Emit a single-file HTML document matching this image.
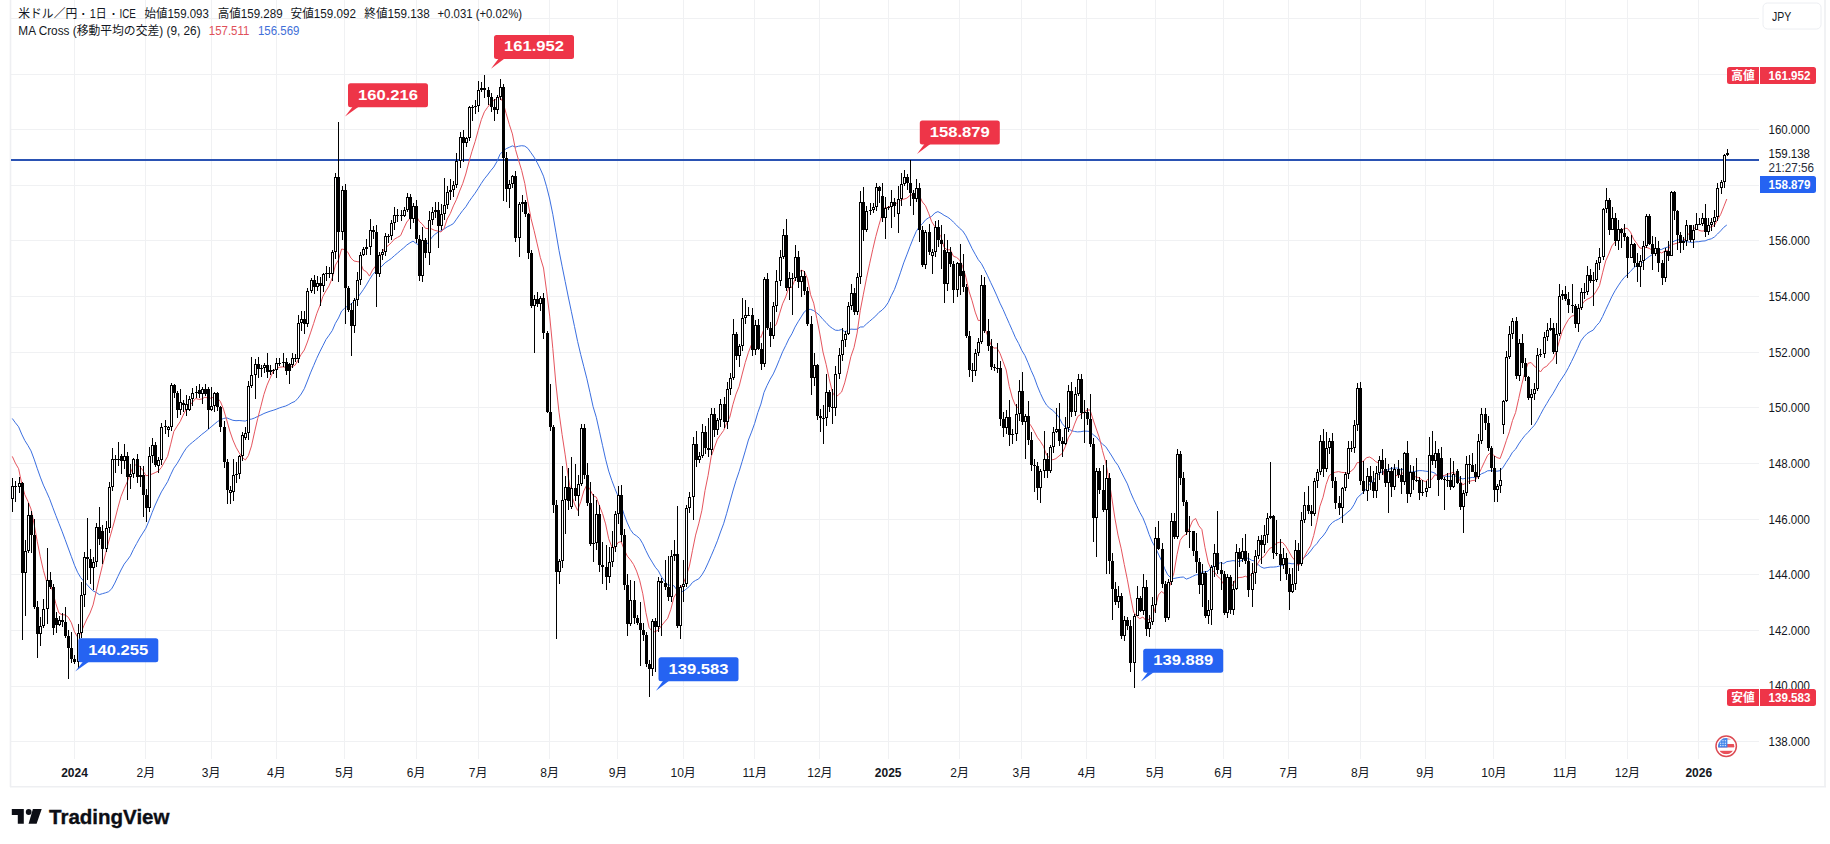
<!DOCTYPE html><html lang="ja"><head><meta charset="utf-8"><title>USDJPY</title><style>html,body{margin:0;padding:0;background:#fff}body{width:1830px;height:844px;overflow:hidden}svg{display:block}</style></head><body><svg width="1830" height="844" viewBox="0 0 1830 844" font-family='"Liberation Sans","Noto Sans CJK JP",sans-serif'>
<rect width="1830" height="844" fill="#fff"/>
<path d="M74.5 0V759 M145.5 0V759 M211.5 0V759 M276.5 0V759 M344.5 0V759 M416.5 0V759 M478.5 0V759 M549.5 0V759 M617.5 0V759 M683.5 0V759 M754.5 0V759 M819.5 0V759 M888.5 0V759 M959.5 0V759 M1021.5 0V759 M1086.5 0V759 M1155.5 0V759 M1223.5 0V759 M1288.5 0V759 M1360.5 0V759 M1425.5 0V759 M1493.5 0V759 M1565.5 0V759 M1627.5 0V759 M1698.5 0V759 M11 741.5H1759 M11 686.5H1759 M11 630.5H1759 M11 574.5H1759 M11 519.5H1759 M11 463.5H1759 M11 407.5H1759 M11 352.5H1759 M11 296.5H1759 M11 240.5H1759 M11 185.5H1759 M11 129.5H1759 M11 74.5H1759 M11 18.5H1759" stroke="#f0f1f3" stroke-width="1" fill="none" shape-rendering="crispEdges"/>
<path d="M10.5 0V787M10 786.8H1826M1825 0V787" stroke="#eeeff2" stroke-width="1.6" fill="none"/>
<rect x="11" y="159" width="1748" height="2" fill="#2a52b3"/>
<polyline points="12.3,418.5 15.4,422.8 18.6,426.8 21.7,434.1 24.8,440.5 27.9,445.4 31.0,450.9 34.1,459.1 37.2,468.3 40.3,477.1 43.4,485.1 46.5,491.8 49.6,498.8 52.7,507.2 55.8,515.4 58.9,523.3 62.0,531.2 65.1,539.5 68.2,548.0 71.4,556.7 74.5,565.2 77.6,572.3 80.7,577.6 83.8,581.2 86.9,584.5 90.0,588.0 93.1,590.9 96.2,592.4 99.3,594.6 102.4,593.7 105.5,592.8 108.6,591.7 111.7,588.8 114.8,583.1 117.9,576.4 121.0,570.0 124.2,564.1 127.3,560.1 130.4,555.8 133.5,549.3 136.6,543.6 139.7,538.0 142.8,533.1 145.9,528.2 149.0,520.8 152.1,512.6 155.2,505.0 158.3,498.3 161.4,491.9 164.5,486.8 167.6,481.7 170.7,474.7 173.8,468.2 177.0,463.7 180.1,458.4 183.2,452.9 186.3,448.2 189.4,444.8 192.5,442.3 195.6,439.7 198.7,437.2 201.8,434.4 204.9,432.1 208.0,429.5 211.1,426.9 214.2,424.3 217.3,421.7 220.4,419.8 223.5,418.5 226.7,417.8 229.8,419.1 232.9,420.3 236.0,420.7 239.1,420.5 242.2,420.8 245.3,421.1 248.4,419.5 251.5,419.1 254.6,418.0 257.7,416.4 260.8,415.1 263.9,413.5 267.0,412.3 270.1,411.2 273.2,410.3 276.3,409.2 279.5,407.9 282.6,406.9 285.7,406.0 288.8,404.5 291.9,402.7 295.0,401.4 298.1,398.1 301.2,394.0 304.3,388.7 307.4,381.0 310.5,372.9 313.6,365.7 316.7,358.4 319.8,351.8 322.9,345.7 326.0,339.5 329.1,335.2 332.3,330.5 335.4,323.3 338.5,318.0 341.6,311.1 344.7,308.2 347.8,305.8 350.9,304.1 354.0,301.4 357.1,298.2 360.2,294.1 363.3,289.7 366.4,284.9 369.5,279.5 372.6,274.7 375.7,271.4 378.8,268.8 381.9,266.2 385.1,262.8 388.2,260.7 391.3,258.5 394.4,255.7 397.5,253.1 400.6,250.4 403.7,247.9 406.8,245.0 409.9,242.9 413.0,241.1 416.1,243.5 419.2,245.1 422.3,247.1 425.4,245.7 428.5,242.2 431.6,237.8 434.7,234.4 437.9,232.3 441.0,230.7 444.1,229.0 447.2,226.9 450.3,225.4 453.4,223.6 456.5,219.2 459.6,214.7 462.7,210.5 465.8,206.8 468.9,201.8 472.0,197.4 475.1,193.2 478.2,188.4 481.3,183.4 484.4,178.8 487.5,175.0 490.7,170.7 493.8,167.0 496.9,161.6 500.0,154.3 503.1,151.1 506.2,148.7 509.3,147.3 512.4,145.9 515.5,147.0 518.6,146.2 521.7,145.7 524.8,146.1 527.9,148.4 531.0,152.8 534.1,157.2 537.2,162.7 540.3,168.9 543.5,176.2 546.6,186.7 549.7,199.0 552.8,214.3 555.9,232.2 559.0,250.4 562.1,266.2 565.2,281.5 568.3,297.0 571.4,311.7 574.5,326.5 577.6,341.4 580.7,354.5 583.8,366.7 586.9,378.8 590.0,392.6 593.1,406.7 596.3,417.3 599.4,431.2 602.5,445.3 605.6,459.2 608.7,471.1 611.8,480.4 614.9,488.6 618.0,496.0 621.1,505.1 624.2,514.8 627.3,522.9 630.4,529.6 633.5,533.9 636.6,535.9 639.7,538.6 642.8,543.8 645.9,550.6 649.1,557.0 652.2,562.1 655.3,567.2 658.4,570.9 661.5,576.9 664.6,581.2 667.7,584.8 670.8,585.3 673.9,585.7 677.0,590.0 680.1,590.9 683.2,591.5 686.3,588.9 689.4,586.4 692.5,582.4 695.6,580.4 698.7,578.9 701.9,574.9 705.0,569.6 708.1,562.9 711.2,555.8 714.3,548.5 717.4,540.8 720.5,532.0 723.6,523.8 726.7,513.3 729.8,502.1 732.9,491.0 736.0,480.6 739.1,471.6 742.2,461.4 745.3,450.9 748.4,440.0 751.5,432.1 754.7,423.3 757.8,412.7 760.9,404.1 764.0,392.4 767.1,385.4 770.2,379.2 773.3,373.9 776.4,367.0 779.5,359.4 782.6,351.8 785.7,345.6 788.8,339.0 791.9,333.8 795.0,327.1 798.1,321.8 801.2,316.9 804.3,311.9 807.5,309.4 810.6,309.4 813.7,310.6 816.8,312.9 819.9,315.7 823.0,319.5 826.1,322.5 829.2,326.0 832.3,328.3 835.4,330.2 838.5,330.4 841.6,329.5 844.7,331.6 847.8,330.7 850.9,329.1 854.0,329.3 857.1,329.2 860.3,327.0 863.4,326.9 866.5,323.9 869.6,321.3 872.7,318.6 875.8,315.9 878.9,312.4 882.0,310.2 885.1,307.0 888.2,302.5 891.3,295.7 894.4,289.6 897.5,281.2 900.6,272.2 903.7,262.9 906.8,254.9 909.9,246.7 913.1,238.7 916.2,231.5 919.3,226.7 922.4,223.8 925.5,219.9 928.6,217.8 931.7,216.3 934.8,213.0 937.9,211.6 941.0,213.2 944.1,215.3 947.2,216.9 950.3,219.0 953.4,222.1 956.5,225.1 959.6,228.3 962.7,230.9 965.9,235.8 969.0,242.1 972.1,248.6 975.2,254.2 978.3,259.7 981.4,263.6 984.5,269.5 987.6,275.8 990.7,282.5 993.8,289.0 996.9,295.9 1000.0,303.2 1003.1,309.5 1006.2,316.6 1009.3,323.6 1012.4,330.6 1015.5,337.8 1018.7,343.6 1021.8,350.4 1024.9,355.5 1028.0,362.7 1031.1,370.4 1034.2,377.2 1037.3,385.9 1040.4,393.4 1043.5,400.0 1046.6,405.2 1049.7,408.2 1052.8,410.5 1055.9,413.5 1059.0,417.3 1062.1,423.4 1065.2,427.1 1068.3,428.9 1071.5,430.6 1074.6,431.5 1077.7,431.9 1080.8,431.7 1083.9,431.1 1087.0,431.2 1090.1,431.5 1093.2,434.8 1096.3,436.9 1099.4,440.8 1102.5,444.2 1105.6,446.5 1108.7,451.2 1111.8,456.0 1114.9,461.2 1118.0,465.4 1121.1,471.7 1124.3,477.9 1127.4,483.9 1130.5,492.2 1133.6,499.3 1136.7,505.8 1139.8,512.3 1142.9,517.8 1146.0,525.5 1149.1,534.4 1152.2,541.9 1155.3,547.4 1158.4,554.0 1161.5,560.6 1164.6,568.5 1167.7,574.8 1170.8,577.7 1173.9,578.5 1177.1,577.8 1180.2,577.3 1183.3,577.0 1186.4,579.1 1189.5,577.9 1192.6,576.4 1195.7,574.9 1198.8,574.5 1201.9,572.0 1205.0,571.9 1208.1,571.2 1211.2,567.6 1214.3,565.1 1217.4,564.1 1220.5,562.6 1223.6,563.6 1226.8,561.6 1229.9,561.2 1233.0,560.6 1236.1,561.1 1239.2,561.5 1242.3,560.2 1245.4,558.0 1248.5,558.3 1251.6,560.3 1254.7,561.0 1257.8,564.3 1260.9,566.9 1264.0,568.2 1267.1,567.6 1270.2,567.1 1273.3,567.1 1276.4,566.8 1279.6,566.0 1282.7,565.5 1285.8,563.9 1288.9,563.2 1292.0,563.8 1295.1,563.7 1298.2,563.5 1301.3,561.4 1304.4,557.2 1307.5,554.7 1310.6,551.0 1313.7,546.8 1316.8,543.7 1319.9,539.2 1323.0,536.0 1326.1,531.7 1329.2,526.0 1332.4,522.5 1335.5,520.5 1338.6,519.2 1341.7,517.0 1344.8,514.7 1347.9,512.0 1351.0,509.4 1354.1,504.5 1357.2,498.1 1360.3,494.9 1363.4,492.3 1366.5,488.5 1369.6,484.3 1372.7,480.7 1375.8,477.8 1378.9,473.8 1382.0,471.9 1385.2,471.0 1388.3,469.5 1391.4,468.4 1394.5,468.0 1397.6,468.1 1400.7,469.7 1403.8,469.1 1406.9,470.9 1410.0,472.1 1413.1,472.0 1416.2,471.1 1419.3,470.6 1422.4,470.7 1425.5,471.2 1428.6,471.5 1431.7,472.0 1434.8,473.0 1438.0,476.6 1441.1,476.5 1444.2,476.1 1447.3,476.3 1450.4,476.4 1453.5,475.8 1456.6,476.2 1459.7,478.0 1462.8,478.9 1465.9,478.2 1469.0,478.0 1472.1,477.4 1475.2,477.7 1478.3,476.4 1481.4,473.8 1484.5,472.6 1487.6,470.8 1490.8,470.6 1493.9,471.0 1497.0,471.2 1500.1,470.7 1503.2,467.2 1506.3,462.2 1509.4,457.6 1512.5,452.2 1515.6,449.2 1518.7,444.0 1521.8,439.5 1524.9,435.5 1528.0,432.4 1531.1,428.8 1534.2,425.5 1537.3,420.6 1540.4,414.7 1543.6,408.7 1546.7,403.6 1549.8,398.3 1552.9,393.7 1556.0,388.2 1559.1,382.6 1562.2,378.0 1565.3,373.3 1568.4,367.7 1571.5,361.5 1574.6,355.1 1577.7,348.3 1580.8,341.1 1583.9,336.9 1587.0,333.7 1590.1,331.7 1593.2,330.1 1596.4,325.7 1599.5,322.4 1602.6,316.5 1605.7,309.7 1608.8,303.2 1611.9,296.5 1615.0,290.8 1618.1,285.9 1621.2,281.3 1624.3,277.4 1627.4,274.6 1630.5,271.4 1633.6,267.9 1636.7,265.4 1639.8,264.0 1642.9,262.1 1646.0,259.0 1649.2,256.6 1652.3,254.6 1655.4,251.7 1658.5,250.0 1661.6,249.4 1664.7,247.9 1667.8,247.1 1670.9,243.7 1674.0,241.1 1677.1,240.0 1680.2,239.5 1683.3,240.7 1686.4,241.7 1689.5,242.1 1692.6,242.5 1695.7,241.8 1698.8,241.7 1702.0,241.1 1705.1,240.9 1708.2,239.6 1711.3,238.8 1714.4,237.0 1717.5,234.0 1720.6,230.9 1723.7,227.4 1726.8,225.0" fill="none" stroke="#3b6fe0" stroke-width="1" stroke-linejoin="round"/>
<polyline points="12.3,456.4 15.4,463.2 18.6,468.7 21.7,483.3 24.8,494.7 27.9,501.2 31.0,509.0 34.1,524.0 37.2,541.2 40.3,556.8 43.4,570.4 46.5,581.2 49.6,582.7 52.7,591.3 55.8,603.5 58.9,613.0 62.0,614.7 65.1,614.9 68.2,617.2 71.4,622.8 74.5,631.9 77.6,637.1 80.7,633.4 83.8,625.8 86.9,619.0 90.0,613.1 93.1,604.9 96.2,591.5 99.3,578.2 102.4,565.6 105.5,553.9 108.6,541.9 111.7,531.0 114.8,519.9 117.9,507.8 121.0,496.5 124.2,488.6 127.3,481.7 130.4,473.3 133.5,465.7 136.6,464.6 139.7,466.4 142.8,470.3 145.9,475.7 149.0,475.2 152.1,474.0 155.2,472.6 158.3,471.1 161.4,467.5 164.5,461.8 167.6,456.4 170.7,444.2 173.8,431.5 177.0,426.4 180.1,421.7 183.2,415.1 186.3,408.9 189.4,405.9 192.5,402.2 195.6,398.4 198.7,399.4 201.8,399.0 204.9,397.2 208.0,398.0 211.1,398.2 214.2,396.9 217.3,397.8 220.4,401.5 223.5,409.2 226.7,419.9 229.8,431.0 232.9,440.0 236.0,447.2 239.1,452.7 242.2,457.2 245.3,460.0 248.4,455.6 251.5,445.9 254.6,431.9 257.7,418.5 260.8,406.6 263.9,394.5 267.0,385.2 270.1,378.1 273.2,371.1 276.3,368.5 279.5,367.2 282.6,366.9 285.7,367.2 288.8,367.5 291.9,366.7 295.0,365.3 298.1,360.0 301.2,354.4 304.3,350.0 307.4,342.0 310.5,332.9 313.6,323.6 316.7,313.8 319.8,305.8 322.9,296.4 326.0,290.8 329.1,285.8 332.3,277.8 335.4,265.1 338.5,259.8 341.6,249.0 344.7,249.6 347.8,252.2 350.9,258.0 354.0,261.0 357.1,261.6 360.2,262.0 363.3,270.0 366.4,271.7 369.5,276.1 372.6,269.9 375.7,265.9 378.8,258.0 381.9,252.7 385.1,247.7 388.2,245.6 391.3,242.7 394.4,239.1 397.5,237.4 400.6,235.6 403.7,228.5 406.8,222.0 409.9,218.4 413.0,215.1 416.1,215.4 419.2,221.3 422.3,224.1 425.4,228.3 428.5,228.7 431.6,228.9 434.7,230.4 437.9,231.1 441.0,232.0 444.1,228.3 447.2,219.0 450.3,213.5 453.4,205.9 456.5,199.4 459.6,191.1 462.7,183.6 465.8,174.0 468.9,162.1 472.0,151.3 475.1,141.7 478.2,130.5 481.3,119.7 484.4,111.8 487.5,107.4 490.7,103.4 493.8,100.3 496.9,99.1 500.0,96.9 503.1,102.6 506.2,113.7 509.3,124.4 512.4,133.9 515.5,149.6 518.6,160.3 521.7,170.5 524.8,183.5 527.9,201.9 531.0,218.4 534.1,230.6 537.2,243.9 540.3,257.4 543.5,268.0 546.6,291.1 549.7,316.1 552.8,348.4 555.9,383.9 559.0,412.2 562.1,434.6 565.2,454.9 568.3,477.5 571.4,494.7 574.5,504.0 577.6,510.4 580.7,501.8 583.8,491.0 586.9,484.6 590.0,489.5 593.1,495.7 596.3,497.1 599.4,505.7 602.5,513.6 605.6,523.9 608.7,538.8 611.8,546.8 614.9,548.0 618.0,542.5 621.1,541.6 624.2,549.5 627.3,556.1 630.4,559.8 633.5,564.4 636.6,571.1 639.7,580.3 642.8,593.8 645.9,612.6 649.1,627.5 652.2,631.5 655.3,631.8 658.4,629.7 661.5,625.8 664.6,621.9 667.7,618.3 670.8,609.5 673.9,597.3 677.0,592.4 680.1,588.7 683.2,583.9 686.3,575.8 689.4,566.2 692.5,550.3 695.6,535.1 698.7,523.9 701.9,510.3 705.0,490.6 708.1,475.4 711.2,456.5 714.3,447.8 717.4,439.3 720.5,434.8 723.6,430.5 726.7,423.1 729.8,417.2 732.9,404.5 736.0,394.1 739.1,386.5 742.2,374.1 745.3,362.4 748.4,352.5 751.5,344.5 754.7,337.4 757.8,334.2 760.9,337.5 764.0,328.9 767.1,326.9 770.2,328.9 773.3,327.9 776.4,324.1 779.5,313.8 782.6,303.8 785.7,297.0 788.8,287.4 791.9,287.3 795.0,279.4 798.1,273.5 801.2,270.1 804.3,271.3 807.5,278.7 810.6,294.7 813.7,303.2 816.8,318.5 819.9,334.1 823.0,352.1 826.1,364.3 829.2,378.8 832.3,391.8 835.4,397.4 838.5,394.8 841.6,392.0 844.7,382.9 847.8,370.4 850.9,356.5 854.0,347.6 857.1,333.1 860.3,310.2 863.4,294.2 866.5,278.2 869.6,263.8 872.7,249.7 875.8,236.5 878.9,225.2 882.0,214.8 885.1,207.2 888.2,207.8 891.3,204.7 894.4,204.1 897.5,202.9 900.6,200.3 903.7,199.2 906.8,198.2 909.9,195.5 913.1,194.5 916.2,192.3 919.3,195.4 922.4,202.0 925.5,205.7 928.6,213.2 931.7,221.6 934.8,226.6 937.9,231.8 941.0,236.7 944.1,247.4 947.2,249.9 950.3,249.8 953.4,256.2 956.5,257.4 959.6,260.0 962.7,266.6 965.9,277.2 969.0,291.2 972.1,300.8 975.2,312.1 978.3,320.6 981.4,320.1 984.5,327.7 987.6,335.5 990.7,344.4 993.8,348.1 996.9,347.9 1000.0,353.3 1003.1,361.6 1006.2,370.0 1009.3,386.6 1012.4,398.1 1015.5,405.7 1018.7,408.3 1021.8,414.2 1024.9,419.5 1028.0,421.8 1031.1,425.9 1034.2,431.3 1037.3,437.3 1040.4,441.4 1043.5,446.4 1046.6,455.2 1049.7,458.0 1052.8,459.8 1055.9,458.6 1059.0,456.0 1062.1,453.5 1065.2,446.8 1068.3,437.9 1071.5,432.6 1074.6,424.1 1077.7,416.5 1080.8,414.4 1083.9,412.5 1087.0,410.0 1090.1,410.0 1093.2,420.0 1096.3,429.0 1099.4,437.7 1102.5,450.7 1105.6,461.7 1108.7,478.1 1111.8,497.8 1114.9,518.2 1118.0,535.1 1121.1,548.2 1124.3,564.7 1127.4,579.8 1130.5,596.8 1133.6,612.1 1136.7,616.2 1139.8,618.7 1142.9,617.0 1146.0,620.7 1149.1,619.1 1152.2,617.4 1155.3,607.7 1158.4,595.0 1161.5,591.5 1164.6,593.8 1167.7,590.5 1170.8,583.1 1173.9,572.9 1177.1,554.3 1180.2,540.2 1183.3,536.0 1186.4,534.1 1189.5,528.2 1192.6,520.7 1195.7,518.5 1198.8,525.7 1201.9,529.6 1205.0,547.6 1208.1,562.2 1211.2,569.6 1214.3,571.9 1217.4,576.2 1220.5,578.8 1223.6,584.4 1226.8,583.5 1229.9,587.7 1233.0,584.8 1236.1,578.4 1239.2,577.5 1242.3,577.3 1245.4,576.2 1248.5,577.9 1251.6,573.5 1254.7,571.1 1257.8,563.3 1260.9,558.4 1264.0,556.5 1267.1,551.9 1270.2,548.0 1273.3,547.1 1276.4,543.1 1279.6,542.3 1282.7,542.5 1285.8,546.3 1288.9,551.5 1292.0,557.0 1295.1,560.6 1298.2,565.9 1301.3,562.2 1304.4,556.8 1307.5,550.8 1310.6,545.9 1313.7,535.5 1316.8,522.2 1319.9,506.3 1323.0,497.3 1326.1,484.5 1329.2,475.7 1332.4,473.1 1335.5,472.2 1338.6,471.6 1341.7,472.4 1344.8,472.6 1347.9,473.4 1351.0,471.2 1354.1,468.5 1357.2,462.6 1360.3,462.6 1363.4,461.2 1366.5,457.7 1369.6,457.0 1372.7,458.9 1375.8,461.7 1378.9,463.0 1382.0,467.9 1385.2,478.5 1388.3,477.3 1391.4,476.9 1394.5,476.1 1397.6,475.3 1400.7,474.4 1403.8,472.2 1406.9,475.9 1410.0,476.3 1413.1,476.0 1416.2,477.0 1419.3,477.8 1422.4,480.3 1425.5,481.7 1428.6,478.6 1431.7,479.5 1434.8,474.8 1438.0,475.7 1441.1,475.6 1444.2,475.6 1447.3,474.1 1450.4,473.6 1453.5,472.0 1456.6,475.2 1459.7,480.3 1462.8,484.8 1465.9,483.0 1469.0,481.5 1472.1,480.6 1475.2,480.2 1478.3,475.1 1481.4,468.5 1484.5,461.8 1487.6,455.3 1490.8,452.5 1493.9,455.4 1497.0,457.6 1500.1,458.5 1503.2,450.1 1506.3,440.7 1509.4,431.8 1512.5,420.5 1515.6,412.5 1518.7,398.6 1521.8,384.4 1524.9,372.4 1528.0,363.3 1531.1,362.5 1534.2,366.1 1537.3,368.4 1540.4,372.0 1543.6,367.8 1546.7,366.3 1549.8,362.5 1552.9,359.7 1556.0,352.6 1559.1,341.8 1562.2,331.3 1565.3,325.0 1568.4,319.6 1571.5,316.1 1574.6,315.5 1577.7,313.2 1580.8,306.5 1583.9,301.7 1587.0,299.4 1590.1,297.9 1593.2,295.7 1596.4,291.0 1599.5,285.6 1602.6,272.8 1605.7,260.9 1608.8,254.0 1611.9,245.9 1615.0,242.1 1618.1,236.3 1621.2,231.1 1624.3,228.3 1627.4,228.4 1630.5,232.2 1633.6,239.1 1636.7,243.3 1639.8,248.0 1642.9,248.5 1646.0,247.2 1649.2,248.4 1652.3,250.2 1655.4,249.1 1658.5,251.3 1661.6,253.0 1664.7,251.1 1667.8,250.6 1670.9,244.6 1674.0,244.1 1677.1,243.1 1680.2,242.0 1683.3,241.2 1686.4,237.0 1689.5,232.8 1692.6,230.4 1695.7,226.8 1698.8,230.4 1702.0,231.1 1705.1,230.7 1708.2,228.7 1711.3,226.5 1714.4,225.6 1717.5,219.8 1720.6,214.6 1723.7,206.9 1726.8,199.0" fill="none" stroke="#e5555e" stroke-width="1" stroke-linejoin="round"/>
<g shape-rendering="crispEdges"><path d="M12 478h1V512h-1zM15 481h1V502h-1zM19 477h1V493h-1zM22 482h1V640h-1zM25 540h1V616h-1zM28 503h1V553h-1zM31 511h1V553h-1zM34 519h1V609h-1zM37 601h1V658h-1zM40 617h1V646h-1zM43 599h1V628h-1zM47 548h1V624h-1zM50 572h1V589h-1zM53 584h1V635h-1zM56 612h1V633h-1zM59 616h1V626h-1zM62 613h1V627h-1zM65 607h1V638h-1zM68 630h1V679h-1zM71 632h1V663h-1zM74 655h1V664h-1zM78 624h1V668h-1zM81 582h1V638h-1zM84 552h1V607h-1zM87 518h1V580h-1zM90 549h1V584h-1zM93 557h1V590h-1zM96 523h1V567h-1zM99 507h1V545h-1zM102 525h1V564h-1zM106 521h1V552h-1zM109 482h1V533h-1zM112 448h1V491h-1zM115 455h1V473h-1zM118 442h1V466h-1zM121 454h1V474h-1zM124 444h1V469h-1zM127 452h1V500h-1zM130 464h1V489h-1zM133 458h1V478h-1zM137 454h1V483h-1zM140 466h1V487h-1zM143 466h1V517h-1zM146 489h1V522h-1zM149 447h1V512h-1zM152 438h1V463h-1zM155 442h1V467h-1zM158 457h1V473h-1zM161 423h1V465h-1zM165 420h1V434h-1zM168 426h1V437h-1zM171 383h1V431h-1zM174 384h1V398h-1zM177 391h1V418h-1zM180 389h1V415h-1zM183 400h1V412h-1zM186 395h1V416h-1zM189 396h1V411h-1zM192 388h1V406h-1zM196 386h1V398h-1zM199 384h1V398h-1zM202 387h1V404h-1zM205 384h1V396h-1zM208 387h1V429h-1zM211 387h1V411h-1zM214 392h1V412h-1zM217 392h1V411h-1zM220 406h1V432h-1zM224 421h1V468h-1zM227 459h1V504h-1zM230 486h1V504h-1zM233 459h1V501h-1zM236 462h1V483h-1zM239 455h1V479h-1zM242 432h1V461h-1zM245 427h1V440h-1zM248 381h1V440h-1zM251 357h1V388h-1zM255 359h1V399h-1zM258 357h1V378h-1zM261 365h1V377h-1zM264 363h1V373h-1zM267 353h1V378h-1zM270 365h1V375h-1zM273 369h1V374h-1zM276 358h1V378h-1zM279 358h1V366h-1zM283 353h1V367h-1zM286 358h1V375h-1zM289 363h1V384h-1zM292 353h1V368h-1zM295 354h1V362h-1zM298 315h1V363h-1zM301 311h1V331h-1zM304 311h1V334h-1zM307 288h1V327h-1zM311 278h1V293h-1zM314 275h1V294h-1zM317 276h1V291h-1zM320 277h1V306h-1zM323 273h1V292h-1zM326 266h1V281h-1zM329 267h1V278h-1zM332 250h1V281h-1zM335 173h1V259h-1zM338 122h1V282h-1zM342 186h1V240h-1zM345 184h1V324h-1zM348 286h1V312h-1zM351 303h1V356h-1zM354 298h1V333h-1zM357 272h1V306h-1zM360 252h1V285h-1zM363 247h1V256h-1zM366 239h1V255h-1zM370 219h1V255h-1zM373 226h1V239h-1zM376 225h1V307h-1zM379 252h1V277h-1zM382 249h1V260h-1zM385 233h1V256h-1zM388 234h1V243h-1zM391 220h1V240h-1zM394 207h1V230h-1zM397 209h1V222h-1zM401 210h1V221h-1zM404 207h1V217h-1zM407 193h1V212h-1zM410 194h1V229h-1zM413 203h1V223h-1zM416 200h1V243h-1zM419 235h1V281h-1zM422 227h1V282h-1zM425 238h1V258h-1zM429 211h1V265h-1zM432 207h1V225h-1zM435 202h1V218h-1zM438 202h1V248h-1zM441 204h1V230h-1zM444 178h1V220h-1zM447 186h1V209h-1zM450 179h1V200h-1zM453 181h1V197h-1zM456 153h1V188h-1zM460 132h1V168h-1zM463 130h1V162h-1zM466 137h1V147h-1zM469 106h1V141h-1zM472 105h1V121h-1zM475 100h1V114h-1zM478 81h1V112h-1zM481 82h1V92h-1zM484 75h1V98h-1zM488 87h1V105h-1zM491 93h1V112h-1zM494 99h1V121h-1zM497 95h1V114h-1zM500 79h1V100h-1zM503 84h1V201h-1zM506 152h1V202h-1zM509 180h1V208h-1zM512 175h1V188h-1zM515 171h1V242h-1zM519 202h1V257h-1zM522 195h1V212h-1zM525 200h1V217h-1zM528 213h1V259h-1zM531 250h1V308h-1zM534 295h1V353h-1zM537 292h1V307h-1zM540 296h1V311h-1zM543 293h1V339h-1zM547 331h1V413h-1zM550 384h1V431h-1zM553 425h1V513h-1zM556 500h1V639h-1zM559 559h1V584h-1zM562 466h1V568h-1zM565 476h1V534h-1zM568 468h1V510h-1zM571 457h1V509h-1zM575 464h1V501h-1zM578 475h1V516h-1zM581 424h1V486h-1zM584 424h1V479h-1zM587 463h1V506h-1zM590 482h1V546h-1zM593 494h1V562h-1zM596 500h1V550h-1zM599 505h1V572h-1zM602 542h1V584h-1zM606 545h1V590h-1zM609 547h1V583h-1zM612 531h1V567h-1zM615 511h1V552h-1zM618 486h1V524h-1zM621 485h1V542h-1zM624 529h1V590h-1zM627 574h1V636h-1zM630 580h1V626h-1zM634 581h1V624h-1zM637 615h1V625h-1zM640 602h1V666h-1zM643 623h1V641h-1zM646 632h1V667h-1zM649 660h1V697h-1zM652 619h1V676h-1zM655 618h1V672h-1zM658 577h1V632h-1zM661 578h1V636h-1zM665 560h1V590h-1zM668 556h1V601h-1zM671 550h1V602h-1zM674 540h1V561h-1zM677 506h1V628h-1zM680 585h1V639h-1zM683 560h1V602h-1zM686 505h1V587h-1zM689 492h1V513h-1zM693 437h1V520h-1zM696 431h1V467h-1zM699 452h1V463h-1zM702 424h1V458h-1zM705 426h1V454h-1zM708 418h1V457h-1zM711 408h1V455h-1zM714 408h1V437h-1zM717 418h1V435h-1zM720 399h1V427h-1zM724 397h1V428h-1zM727 382h1V429h-1zM730 373h1V395h-1zM733 319h1V380h-1zM736 332h1V360h-1zM739 344h1V367h-1zM742 298h1V351h-1zM745 300h1V324h-1zM748 307h1V316h-1zM752 308h1V356h-1zM755 320h1V355h-1zM758 319h1V350h-1zM761 343h1V370h-1zM764 277h1V367h-1zM767 273h1V330h-1zM770 322h1V347h-1zM773 302h1V339h-1zM776 270h1V312h-1zM780 250h1V286h-1zM783 229h1V259h-1zM786 219h1V291h-1zM789 272h1V300h-1zM792 273h1V315h-1zM795 245h1V281h-1zM798 251h1V288h-1zM801 270h1V297h-1zM804 271h1V295h-1zM807 287h1V326h-1zM811 316h1V395h-1zM814 353h1V386h-1zM817 364h1V420h-1zM820 409h1V432h-1zM823 405h1V444h-1zM826 374h1V426h-1zM829 390h1V412h-1zM832 389h1V424h-1zM835 366h1V416h-1zM839 348h1V379h-1zM842 328h1V361h-1zM845 331h1V347h-1zM848 302h1V335h-1zM851 284h1V310h-1zM854 288h1V315h-1zM857 273h1V315h-1zM860 191h1V284h-1zM863 187h1V241h-1zM866 206h1V232h-1zM870 203h1V215h-1zM873 203h1V213h-1zM876 183h1V211h-1zM879 186h1V203h-1zM882 183h1V222h-1zM885 197h1V239h-1zM888 206h1V210h-1zM891 190h1V228h-1zM894 198h1V217h-1zM898 186h1V233h-1zM901 173h1V206h-1zM904 170h1V186h-1zM907 174h1V190h-1zM910 160h1V206h-1zM913 190h1V215h-1zM916 179h1V202h-1zM919 183h1V242h-1zM922 226h1V267h-1zM925 230h1V269h-1zM929 224h1V255h-1zM932 249h1V274h-1zM935 221h1V257h-1zM938 220h1V247h-1zM941 225h1V269h-1zM944 234h1V303h-1zM947 240h1V291h-1zM950 247h1V267h-1zM953 261h1V303h-1zM957 262h1V297h-1zM960 244h1V295h-1zM963 254h1V292h-1zM966 284h1V338h-1zM969 331h1V377h-1zM972 363h1V382h-1zM975 349h1V376h-1zM978 338h1V356h-1zM981 275h1V344h-1zM984 277h1V333h-1zM988 319h1V351h-1zM991 339h1V370h-1zM994 364h1V371h-1zM997 343h1V373h-1zM1000 361h1V426h-1zM1003 412h1V437h-1zM1006 410h1V434h-1zM1009 400h1V446h-1zM1012 429h1V444h-1zM1016 404h1V441h-1zM1019 380h1V421h-1zM1022 372h1V425h-1zM1025 414h1V459h-1zM1028 401h1V445h-1zM1031 432h1V471h-1zM1034 459h1V492h-1zM1037 462h1V500h-1zM1040 469h1V503h-1zM1044 431h1V478h-1zM1047 453h1V478h-1zM1050 445h1V473h-1zM1053 427h1V453h-1zM1056 408h1V433h-1zM1059 403h1V446h-1zM1062 437h1V457h-1zM1065 417h1V445h-1zM1068 385h1V432h-1zM1071 382h1V417h-1zM1075 387h1V416h-1zM1078 374h1V396h-1zM1081 374h1V419h-1zM1084 400h1V443h-1zM1087 408h1V425h-1zM1090 394h1V447h-1zM1093 438h1V542h-1zM1096 468h1V557h-1zM1099 468h1V494h-1zM1103 465h1V512h-1zM1106 460h1V574h-1zM1109 473h1V574h-1zM1112 553h1V620h-1zM1115 582h1V605h-1zM1118 586h1V608h-1zM1121 593h1V639h-1zM1124 616h1V641h-1zM1127 617h1V630h-1zM1130 620h1V672h-1zM1134 614h1V688h-1zM1137 586h1V616h-1zM1140 596h1V612h-1zM1143 574h1V615h-1zM1146 580h1V636h-1zM1149 615h1V637h-1zM1152 597h1V625h-1zM1155 527h1V613h-1zM1158 521h1V550h-1zM1162 543h1V588h-1zM1165 581h1V622h-1zM1168 579h1V620h-1zM1171 513h1V585h-1zM1174 513h1V539h-1zM1177 449h1V539h-1zM1180 451h1V485h-1zM1183 472h1V506h-1zM1186 500h1V535h-1zM1189 516h1V548h-1zM1193 531h1V556h-1zM1196 533h1V573h-1zM1199 558h1V594h-1zM1202 564h1V607h-1zM1205 571h1V618h-1zM1208 600h1V624h-1zM1211 565h1V625h-1zM1214 544h1V577h-1zM1217 511h1V574h-1zM1221 562h1V590h-1zM1224 571h1V615h-1zM1227 574h1V618h-1zM1230 575h1V614h-1zM1233 581h1V615h-1zM1236 544h1V590h-1zM1239 548h1V567h-1zM1242 538h1V562h-1zM1245 534h1V564h-1zM1248 553h1V597h-1zM1252 563h1V607h-1zM1255 550h1V584h-1zM1258 536h1V559h-1zM1261 535h1V564h-1zM1264 525h1V553h-1zM1267 513h1V543h-1zM1270 462h1V519h-1zM1273 515h1V559h-1zM1276 520h1V556h-1zM1280 539h1V581h-1zM1283 548h1V569h-1zM1286 553h1V580h-1zM1289 568h1V610h-1zM1292 568h1V593h-1zM1295 540h1V590h-1zM1298 543h1V571h-1zM1301 512h1V566h-1zM1304 492h1V523h-1zM1308 486h1V514h-1zM1311 505h1V526h-1zM1314 478h1V516h-1zM1317 469h1V488h-1zM1320 435h1V475h-1zM1323 429h1V477h-1zM1326 432h1V472h-1zM1329 438h1V454h-1zM1332 433h1V488h-1zM1335 477h1V509h-1zM1339 496h1V515h-1zM1342 487h1V523h-1zM1345 472h1V491h-1zM1348 441h1V479h-1zM1351 441h1V452h-1zM1354 420h1V453h-1zM1357 383h1V431h-1zM1360 382h1V485h-1zM1363 461h1V494h-1zM1367 468h1V501h-1zM1370 466h1V490h-1zM1373 471h1V498h-1zM1376 466h1V498h-1zM1379 456h1V480h-1zM1382 449h1V475h-1zM1385 458h1V487h-1zM1388 464h1V513h-1zM1391 467h1V497h-1zM1394 464h1V490h-1zM1398 460h1V478h-1zM1401 468h1V494h-1zM1404 452h1V485h-1zM1407 441h1V503h-1zM1410 465h1V497h-1zM1413 466h1V490h-1zM1416 458h1V482h-1zM1419 477h1V500h-1zM1422 480h1V496h-1zM1426 481h1V497h-1zM1429 437h1V488h-1zM1432 431h1V465h-1zM1435 441h1V468h-1zM1438 449h1V496h-1zM1441 447h1V480h-1zM1444 477h1V510h-1zM1447 473h1V487h-1zM1450 458h1V490h-1zM1453 461h1V488h-1zM1457 469h1V484h-1zM1460 476h1V510h-1zM1463 490h1V533h-1zM1466 456h1V496h-1zM1469 455h1V484h-1zM1472 453h1V472h-1zM1475 464h1V482h-1zM1478 434h1V479h-1zM1481 408h1V444h-1zM1485 408h1V430h-1zM1488 416h1V451h-1zM1491 446h1V472h-1zM1494 456h1V502h-1zM1497 484h1V502h-1zM1500 468h1V493h-1zM1503 400h1V434h-1zM1506 351h1V402h-1zM1509 326h1V359h-1zM1512 318h1V339h-1zM1516 317h1V379h-1zM1519 339h1V381h-1zM1522 334h1V368h-1zM1525 358h1V381h-1zM1528 376h1V400h-1zM1531 389h1V425h-1zM1534 383h1V400h-1zM1537 348h1V391h-1zM1540 349h1V357h-1zM1544 332h1V358h-1zM1547 323h1V341h-1zM1550 318h1V331h-1zM1553 323h1V354h-1zM1556 323h1V364h-1zM1559 284h1V336h-1zM1562 290h1V300h-1zM1565 286h1V301h-1zM1568 292h1V313h-1zM1572 284h1V313h-1zM1575 304h1V328h-1zM1578 304h1V332h-1zM1581 288h1V310h-1zM1584 283h1V299h-1zM1587 266h1V295h-1zM1590 269h1V283h-1zM1593 272h1V306h-1zM1596 260h1V282h-1zM1599 248h1V270h-1zM1603 208h1V260h-1zM1606 188h1V213h-1zM1609 198h1V235h-1zM1612 207h1V230h-1zM1615 213h1V246h-1zM1618 220h1V250h-1zM1621 228h1V248h-1zM1624 224h1V241h-1zM1627 236h1V278h-1zM1631 235h1V258h-1zM1634 243h1V267h-1zM1637 253h1V282h-1zM1640 255h1V287h-1zM1643 241h1V270h-1zM1646 214h1V248h-1zM1649 214h1V245h-1zM1652 236h1V270h-1zM1655 237h1V256h-1zM1658 241h1V272h-1zM1662 260h1V285h-1zM1665 248h1V282h-1zM1668 241h1V261h-1zM1671 191h1V256h-1zM1674 191h1V220h-1zM1677 210h1V250h-1zM1680 232h1V253h-1zM1683 237h1V250h-1zM1686 220h1V246h-1zM1690 225h1V242h-1zM1693 225h1V248h-1zM1696 213h1V230h-1zM1699 218h1V225h-1zM1702 213h1V226h-1zM1705 204h1V237h-1zM1708 218h1V235h-1zM1711 218h1V231h-1zM1714 210h1V227h-1zM1717 183h1V221h-1zM1721 180h1V194h-1zM1724 154h1V188h-1zM1727 149h1V156h-1z" fill="#000"/><path d="M11 486h3V499h-3zM14 486h3V487h-3zM18 483h3V487h-3zM21 483h3V573h-3zM24 551h3V573h-3zM27 515h3V551h-3zM30 515h3V535h-3zM33 535h3V607h-3zM36 607h3V634h-3zM39 626h3V634h-3zM42 609h3V626h-3zM46 580h3V609h-3zM49 580h3V587h-3zM52 587h3V628h-3zM55 618h3V625h-3zM58 620h3V625h-3zM61 620h3V622h-3zM64 622h3V636h-3zM67 636h3V648h-3zM70 648h3V659h-3zM73 659h3V662h-3zM77 633h3V662h-3zM80 595h3V633h-3zM83 557h3V595h-3zM86 557h3V559h-3zM89 559h3V568h-3zM92 562h3V568h-3zM95 527h3V562h-3zM98 527h3V539h-3zM101 531h3V549h-3zM105 528h3V549h-3zM108 487h3V528h-3zM111 459h3V487h-3zM114 459h3V460h-3zM117 459h3V460h-3zM120 456h3V461h-3zM123 456h3V461h-3zM126 456h3V477h-3zM129 474h3V477h-3zM132 459h3V474h-3zM136 459h3V477h-3zM139 475h3V477h-3zM142 475h3V495h-3zM145 495h3V508h-3zM148 456h3V508h-3zM151 445h3V456h-3zM154 445h3V465h-3zM157 460h3V466h-3zM160 427h3V460h-3zM164 426h3V427h-3zM167 427h3V430h-3zM170 385h3V427h-3zM173 385h3V393h-3zM176 393h3V410h-3zM179 402h3V410h-3zM182 403h3V405h-3zM185 404h3V410h-3zM188 399h3V410h-3zM191 393h3V399h-3zM195 392h3V393h-3zM198 390h3V394h-3zM201 389h3V394h-3zM204 389h3V394h-3zM207 389h3V410h-3zM210 406h3V410h-3zM213 393h3V406h-3zM216 393h3V407h-3zM219 407h3V427h-3zM223 427h3V462h-3zM226 462h3V490h-3zM229 490h3V493h-3zM232 475h3V492h-3zM235 474h3V475h-3zM238 456h3V474h-3zM241 435h3V456h-3zM244 433h3V438h-3zM247 386h3V433h-3zM250 375h3V386h-3zM254 364h3V375h-3zM257 364h3V369h-3zM260 368h3V369h-3zM263 365h3V368h-3zM266 365h3V372h-3zM269 370h3V372h-3zM272 370h3V371h-3zM275 363h3V370h-3zM278 363h3V364h-3zM282 362h3V363h-3zM285 362h3V371h-3zM288 364h3V371h-3zM291 358h3V365h-3zM294 358h3V359h-3zM297 323h3V359h-3zM300 319h3V323h-3zM303 319h3V324h-3zM306 291h3V324h-3zM310 280h3V291h-3zM313 280h3V287h-3zM316 283h3V287h-3zM319 283h3V286h-3zM322 274h3V286h-3zM325 273h3V274h-3zM328 273h3V274h-3zM331 252h3V274h-3zM334 177h3V252h-3zM337 177h3V232h-3zM341 190h3V232h-3zM344 190h3V288h-3zM347 288h3V310h-3zM350 310h3V326h-3zM353 300h3V326h-3zM356 280h3V300h-3zM359 255h3V280h-3zM362 249h3V255h-3zM365 247h3V249h-3zM369 230h3V247h-3zM372 230h3V232h-3zM375 232h3V274h-3zM378 255h3V274h-3zM381 252h3V255h-3zM384 236h3V252h-3zM387 236h3V237h-3zM390 223h3V236h-3zM393 215h3V223h-3zM396 215h3V216h-3zM400 215h3V216h-3zM403 210h3V216h-3zM406 197h3V210h-3zM409 197h3V219h-3zM412 206h3V219h-3zM415 206h3V239h-3zM418 239h3V276h-3zM421 240h3V276h-3zM424 240h3V253h-3zM428 220h3V253h-3zM431 212h3V220h-3zM434 210h3V212h-3zM437 210h3V226h-3zM440 214h3V226h-3zM443 205h3V214h-3zM446 192h3V205h-3zM449 190h3V192h-3zM452 185h3V190h-3zM455 161h3V185h-3zM459 137h3V161h-3zM462 137h3V143h-3zM465 138h3V143h-3zM468 107h3V138h-3zM471 107h3V108h-3zM474 106h3V107h-3zM477 90h3V106h-3zM480 88h3V90h-3zM483 88h3V90h-3zM487 90h3V97h-3zM490 97h3V107h-3zM493 107h3V110h-3zM496 97h3V110h-3zM499 87h3V97h-3zM502 87h3V158h-3zM505 158h3V189h-3zM508 184h3V189h-3zM511 176h3V184h-3zM514 176h3V238h-3zM518 204h3V238h-3zM521 202h3V204h-3zM524 202h3V214h-3zM527 214h3V253h-3zM530 253h3V306h-3zM533 299h3V306h-3zM536 299h3V304h-3zM539 298h3V304h-3zM542 298h3V333h-3zM546 333h3V412h-3zM549 412h3V427h-3zM552 427h3V505h-3zM555 505h3V572h-3zM558 561h3V572h-3zM561 500h3V561h-3zM564 487h3V500h-3zM567 487h3V501h-3zM570 488h3V507h-3zM574 488h3V496h-3zM577 484h3V496h-3zM580 428h3V484h-3zM583 428h3V475h-3zM586 475h3V503h-3zM589 503h3V544h-3zM592 543h3V544h-3zM595 514h3V543h-3zM598 514h3V565h-3zM601 565h3V567h-3zM605 567h3V577h-3zM608 562h3V577h-3zM611 547h3V562h-3zM614 514h3V547h-3zM617 495h3V514h-3zM620 495h3V535h-3zM623 535h3V585h-3zM626 585h3V624h-3zM629 600h3V624h-3zM633 600h3V618h-3zM636 618h3V623h-3zM639 623h3V630h-3zM642 630h3V635h-3zM645 635h3V664h-3zM648 664h3V669h-3zM651 621h3V669h-3zM654 621h3V627h-3zM657 581h3V627h-3zM660 581h3V583h-3zM664 583h3V587h-3zM667 587h3V597h-3zM670 556h3V597h-3zM673 554h3V556h-3zM676 554h3V626h-3zM679 587h3V626h-3zM682 584h3V587h-3zM685 508h3V584h-3zM688 497h3V508h-3zM692 444h3V497h-3zM695 444h3V460h-3zM698 456h3V460h-3zM701 432h3V456h-3zM704 432h3V448h-3zM707 448h3V450h-3zM710 414h3V450h-3zM713 414h3V430h-3zM716 420h3V430h-3zM719 404h3V420h-3zM723 404h3V422h-3zM726 389h3V422h-3zM729 378h3V389h-3zM732 334h3V378h-3zM735 334h3V356h-3zM738 346h3V356h-3zM741 318h3V346h-3zM744 315h3V318h-3zM747 315h3V316h-3zM751 315h3V350h-3zM754 325h3V350h-3zM757 325h3V349h-3zM760 349h3V364h-3zM763 279h3V364h-3zM766 279h3V328h-3zM769 328h3V336h-3zM772 306h3V336h-3zM775 281h3V306h-3zM779 257h3V281h-3zM782 235h3V257h-3zM785 235h3V288h-3zM788 278h3V288h-3zM791 278h3V279h-3zM794 257h3V278h-3zM797 257h3V282h-3zM800 276h3V282h-3zM803 276h3V291h-3zM806 291h3V324h-3zM810 324h3V378h-3zM813 365h3V378h-3zM816 365h3V416h-3zM819 416h3V418h-3zM822 418h3V419h-3zM825 392h3V418h-3zM828 392h3V407h-3zM831 407h3V408h-3zM834 374h3V408h-3zM838 355h3V374h-3zM841 340h3V355h-3zM844 334h3V340h-3zM847 306h3V334h-3zM850 293h3V306h-3zM853 293h3V312h-3zM856 277h3V312h-3zM859 202h3V277h-3zM862 202h3V230h-3zM865 211h3V230h-3zM869 210h3V211h-3zM872 207h3V210h-3zM875 187h3V207h-3zM878 187h3V191h-3zM881 196h3V218h-3zM884 208h3V218h-3zM887 207h3V208h-3zM890 202h3V207h-3zM893 202h3V206h-3zM897 199h3V214h-3zM900 184h3V199h-3zM903 177h3V184h-3zM906 177h3V183h-3zM909 183h3V193h-3zM912 193h3V199h-3zM915 188h3V199h-3zM918 188h3V230h-3zM921 230h3V265h-3zM924 232h3V265h-3zM928 232h3V252h-3zM931 252h3V256h-3zM934 227h3V252h-3zM937 227h3V240h-3zM940 240h3V244h-3zM943 250h3V284h-3zM946 252h3V284h-3zM949 252h3V264h-3zM952 264h3V290h-3zM956 263h3V290h-3zM959 263h3V276h-3zM962 271h3V287h-3zM965 287h3V336h-3zM968 336h3V370h-3zM971 370h3V371h-3zM974 353h3V371h-3zM977 342h3V353h-3zM980 285h3V342h-3zM983 285h3V331h-3zM987 331h3V346h-3zM990 346h3V367h-3zM993 367h3V368h-3zM996 368h3V369h-3zM999 368h3V419h-3zM1002 419h3V428h-3zM1005 417h3V428h-3zM1008 417h3V435h-3zM1011 434h3V435h-3zM1015 414h3V434h-3zM1018 391h3V414h-3zM1021 391h3V422h-3zM1024 416h3V422h-3zM1027 416h3V440h-3zM1030 440h3V465h-3zM1033 465h3V466h-3zM1036 466h3V488h-3zM1039 471h3V488h-3zM1043 459h3V471h-3zM1046 459h3V471h-3zM1049 447h3V471h-3zM1052 432h3V447h-3zM1055 429h3V432h-3zM1058 429h3V441h-3zM1061 441h3V444h-3zM1064 428h3V444h-3zM1067 391h3V428h-3zM1070 391h3V412h-3zM1074 394h3V412h-3zM1077 379h3V394h-3zM1080 379h3V413h-3zM1083 412h3V413h-3zM1086 412h3V419h-3zM1089 419h3V444h-3zM1092 444h3V518h-3zM1095 471h3V518h-3zM1098 471h3V490h-3zM1102 490h3V510h-3zM1105 478h3V510h-3zM1108 478h3V561h-3zM1111 561h3V589h-3zM1114 589h3V602h-3zM1117 596h3V602h-3zM1120 596h3V636h-3zM1123 620h3V636h-3zM1126 620h3V626h-3zM1129 626h3V663h-3zM1133 616h3V663h-3zM1136 598h3V616h-3zM1139 598h3V611h-3zM1142 587h3V611h-3zM1145 587h3V629h-3zM1148 622h3V629h-3zM1151 605h3V622h-3zM1154 538h3V605h-3zM1157 538h3V549h-3zM1161 549h3V584h-3zM1164 584h3V618h-3zM1167 582h3V618h-3zM1170 521h3V582h-3zM1173 521h3V537h-3zM1176 454h3V537h-3zM1179 454h3V478h-3zM1182 478h3V502h-3zM1185 502h3V532h-3zM1188 531h3V532h-3zM1192 531h3V551h-3zM1195 551h3V562h-3zM1198 562h3V585h-3zM1201 573h3V585h-3zM1204 573h3V616h-3zM1207 610h3V616h-3zM1210 567h3V610h-3zM1213 553h3V567h-3zM1216 553h3V570h-3zM1220 570h3V574h-3zM1223 574h3V613h-3zM1226 577h3V613h-3zM1229 577h3V610h-3zM1232 589h3V610h-3zM1235 552h3V589h-3zM1238 552h3V559h-3zM1241 551h3V559h-3zM1244 551h3V561h-3zM1247 561h3V590h-3zM1251 573h3V590h-3zM1254 556h3V573h-3zM1257 540h3V556h-3zM1260 540h3V545h-3zM1263 535h3V545h-3zM1266 518h3V535h-3zM1269 516h3V518h-3zM1272 516h3V553h-3zM1275 553h3V554h-3zM1279 554h3V565h-3zM1282 558h3V565h-3zM1285 558h3V574h-3zM1288 574h3V592h-3zM1291 584h3V592h-3zM1294 550h3V584h-3zM1297 550h3V564h-3zM1300 520h3V564h-3zM1303 505h3V520h-3zM1307 505h3V511h-3zM1310 511h3V514h-3zM1313 481h3V514h-3zM1316 472h3V481h-3zM1319 441h3V472h-3zM1322 441h3V469h-3zM1325 448h3V469h-3zM1328 441h3V448h-3zM1331 441h3V481h-3zM1334 481h3V503h-3zM1338 503h3V508h-3zM1341 488h3V508h-3zM1344 474h3V488h-3zM1347 448h3V474h-3zM1350 448h3V449h-3zM1353 425h3V448h-3zM1356 388h3V425h-3zM1359 388h3V481h-3zM1362 481h3V491h-3zM1366 476h3V491h-3zM1369 476h3V482h-3zM1372 482h3V491h-3zM1375 473h3V491h-3zM1378 460h3V473h-3zM1381 460h3V469h-3zM1384 469h3V483h-3zM1387 471h3V483h-3zM1390 471h3V487h-3zM1393 469h3V487h-3zM1397 469h3V475h-3zM1400 475h3V482h-3zM1403 453h3V482h-3zM1406 453h3V494h-3zM1409 472h3V494h-3zM1412 472h3V480h-3zM1415 480h3V481h-3zM1418 480h3V493h-3zM1421 492h3V493h-3zM1425 488h3V492h-3zM1428 455h3V488h-3zM1431 455h3V461h-3zM1434 453h3V461h-3zM1437 453h3V480h-3zM1440 458h3V479h-3zM1443 479h3V480h-3zM1446 480h3V481h-3zM1449 480h3V487h-3zM1452 474h3V487h-3zM1456 471h3V483h-3zM1459 483h3V507h-3zM1462 493h3V507h-3zM1465 464h3V493h-3zM1468 464h3V465h-3zM1471 465h3V472h-3zM1474 472h3V477h-3zM1477 441h3V477h-3zM1480 414h3V441h-3zM1484 414h3V423h-3zM1487 423h3V448h-3zM1490 448h3V468h-3zM1493 468h3V490h-3zM1496 486h3V490h-3zM1499 480h3V486h-3zM1502 401h3V425h-3zM1505 357h3V401h-3zM1508 334h3V357h-3zM1511 321h3V334h-3zM1515 321h3V376h-3zM1518 343h3V376h-3zM1521 343h3V363h-3zM1524 363h3V377h-3zM1527 377h3V398h-3zM1530 394h3V398h-3zM1533 389h3V394h-3zM1536 355h3V389h-3zM1539 354h3V355h-3zM1543 337h3V354h-3zM1546 330h3V337h-3zM1549 328h3V330h-3zM1552 328h3V352h-3zM1555 334h3V352h-3zM1558 296h3V334h-3zM1561 294h3V296h-3zM1564 294h3V299h-3zM1567 299h3V305h-3zM1571 305h3V306h-3zM1574 306h3V324h-3zM1577 308h3V324h-3zM1580 292h3V308h-3zM1583 292h3V293h-3zM1586 275h3V292h-3zM1589 275h3V281h-3zM1592 280h3V281h-3zM1595 263h3V280h-3zM1598 257h3V263h-3zM1602 209h3V257h-3zM1605 200h3V209h-3zM1608 200h3V230h-3zM1611 218h3V230h-3zM1614 218h3V241h-3zM1617 229h3V241h-3zM1620 229h3V233h-3zM1623 233h3V237h-3zM1626 237h3V258h-3zM1630 244h3V258h-3zM1633 244h3V263h-3zM1636 263h3V267h-3zM1639 261h3V267h-3zM1642 246h3V261h-3zM1645 216h3V246h-3zM1648 216h3V244h-3zM1651 244h3V254h-3zM1654 248h3V254h-3zM1657 248h3V263h-3zM1661 263h3V278h-3zM1664 251h3V278h-3zM1667 251h3V256h-3zM1670 192h3V256h-3zM1673 192h3V211h-3zM1676 211h3V235h-3zM1679 235h3V243h-3zM1682 241h3V243h-3zM1685 225h3V241h-3zM1689 225h3V240h-3zM1692 230h3V240h-3zM1695 224h3V230h-3zM1698 224h3V225h-3zM1701 218h3V224h-3zM1704 218h3V232h-3zM1707 225h3V232h-3zM1710 222h3V225h-3zM1713 217h3V222h-3zM1716 188h3V217h-3zM1720 182h3V188h-3zM1723 155h3V182h-3zM1726 153h3V155h-3z" fill="#000"/><path d="M12 487h1V498h-1zM19 484h1V486h-1zM25 552h1V572h-1zM28 516h1V550h-1zM40 627h1V633h-1zM43 610h1V625h-1zM47 581h1V608h-1zM59 621h1V624h-1zM78 634h1V661h-1zM81 596h1V632h-1zM84 558h1V594h-1zM93 563h1V567h-1zM96 528h1V561h-1zM106 529h1V548h-1zM109 488h1V527h-1zM112 460h1V486h-1zM124 457h1V460h-1zM130 475h1V476h-1zM133 460h1V473h-1zM149 457h1V507h-1zM152 446h1V455h-1zM158 461h1V465h-1zM161 428h1V459h-1zM168 428h1V429h-1zM171 386h1V426h-1zM180 403h1V409h-1zM186 405h1V409h-1zM189 400h1V409h-1zM192 394h1V398h-1zM202 390h1V393h-1zM211 407h1V409h-1zM214 394h1V405h-1zM230 491h1V492h-1zM233 476h1V491h-1zM239 457h1V473h-1zM242 436h1V455h-1zM245 434h1V437h-1zM248 387h1V432h-1zM251 376h1V385h-1zM255 365h1V374h-1zM264 366h1V367h-1zM276 364h1V369h-1zM292 359h1V364h-1zM298 324h1V358h-1zM301 320h1V322h-1zM307 292h1V323h-1zM311 281h1V290h-1zM317 284h1V286h-1zM323 275h1V285h-1zM332 253h1V273h-1zM335 178h1V251h-1zM342 191h1V231h-1zM354 301h1V325h-1zM357 281h1V299h-1zM360 256h1V279h-1zM363 250h1V254h-1zM370 231h1V246h-1zM379 256h1V273h-1zM382 253h1V254h-1zM385 237h1V251h-1zM391 224h1V235h-1zM394 216h1V222h-1zM404 211h1V215h-1zM407 198h1V209h-1zM413 207h1V218h-1zM422 241h1V275h-1zM429 221h1V252h-1zM432 213h1V219h-1zM441 215h1V225h-1zM444 206h1V213h-1zM447 193h1V204h-1zM453 186h1V189h-1zM456 162h1V184h-1zM460 138h1V160h-1zM466 139h1V142h-1zM469 108h1V137h-1zM478 91h1V105h-1zM497 98h1V109h-1zM500 88h1V96h-1zM509 185h1V188h-1zM512 177h1V183h-1zM519 205h1V237h-1zM534 300h1V305h-1zM540 299h1V303h-1zM559 562h1V571h-1zM562 501h1V560h-1zM565 488h1V499h-1zM571 489h1V506h-1zM578 485h1V495h-1zM581 429h1V483h-1zM596 515h1V542h-1zM609 563h1V576h-1zM612 548h1V561h-1zM615 515h1V546h-1zM618 496h1V513h-1zM630 601h1V623h-1zM652 622h1V668h-1zM658 582h1V626h-1zM671 557h1V596h-1zM680 588h1V625h-1zM683 585h1V586h-1zM686 509h1V583h-1zM689 498h1V507h-1zM693 445h1V496h-1zM699 457h1V459h-1zM702 433h1V455h-1zM711 415h1V449h-1zM717 421h1V429h-1zM720 405h1V419h-1zM727 390h1V421h-1zM730 379h1V388h-1zM733 335h1V377h-1zM739 347h1V355h-1zM742 319h1V345h-1zM745 316h1V317h-1zM755 326h1V349h-1zM764 280h1V363h-1zM773 307h1V335h-1zM776 282h1V305h-1zM780 258h1V280h-1zM783 236h1V256h-1zM789 279h1V287h-1zM795 258h1V277h-1zM801 277h1V281h-1zM814 366h1V377h-1zM826 393h1V417h-1zM835 375h1V407h-1zM839 356h1V373h-1zM842 341h1V354h-1zM845 335h1V339h-1zM848 307h1V333h-1zM851 294h1V305h-1zM857 278h1V311h-1zM860 203h1V276h-1zM866 212h1V229h-1zM873 208h1V209h-1zM876 188h1V206h-1zM885 209h1V217h-1zM891 203h1V206h-1zM898 200h1V213h-1zM901 185h1V198h-1zM904 178h1V183h-1zM916 189h1V198h-1zM925 233h1V264h-1zM932 253h1V255h-1zM935 228h1V251h-1zM947 253h1V283h-1zM957 264h1V289h-1zM975 354h1V370h-1zM978 343h1V352h-1zM981 286h1V341h-1zM1006 418h1V427h-1zM1016 415h1V433h-1zM1019 392h1V413h-1zM1025 417h1V421h-1zM1040 472h1V487h-1zM1044 460h1V470h-1zM1050 448h1V470h-1zM1053 433h1V446h-1zM1056 430h1V431h-1zM1065 429h1V443h-1zM1068 392h1V427h-1zM1075 395h1V411h-1zM1078 380h1V393h-1zM1096 472h1V517h-1zM1106 479h1V509h-1zM1118 597h1V601h-1zM1124 621h1V635h-1zM1134 617h1V662h-1zM1137 599h1V615h-1zM1143 588h1V610h-1zM1149 623h1V628h-1zM1152 606h1V621h-1zM1155 539h1V604h-1zM1168 583h1V617h-1zM1171 522h1V581h-1zM1177 455h1V536h-1zM1202 574h1V584h-1zM1208 611h1V615h-1zM1211 568h1V609h-1zM1214 554h1V566h-1zM1227 578h1V612h-1zM1233 590h1V609h-1zM1236 553h1V588h-1zM1242 552h1V558h-1zM1252 574h1V589h-1zM1255 557h1V572h-1zM1258 541h1V555h-1zM1264 536h1V544h-1zM1267 519h1V534h-1zM1283 559h1V564h-1zM1292 585h1V591h-1zM1295 551h1V583h-1zM1301 521h1V563h-1zM1304 506h1V519h-1zM1314 482h1V513h-1zM1317 473h1V480h-1zM1320 442h1V471h-1zM1326 449h1V468h-1zM1329 442h1V447h-1zM1342 489h1V507h-1zM1345 475h1V487h-1zM1348 449h1V473h-1zM1354 426h1V447h-1zM1357 389h1V424h-1zM1367 477h1V490h-1zM1376 474h1V490h-1zM1379 461h1V472h-1zM1388 472h1V482h-1zM1394 470h1V486h-1zM1404 454h1V481h-1zM1410 473h1V493h-1zM1426 489h1V491h-1zM1429 456h1V487h-1zM1435 454h1V460h-1zM1453 475h1V486h-1zM1463 494h1V506h-1zM1466 465h1V492h-1zM1478 442h1V476h-1zM1481 415h1V440h-1zM1497 487h1V489h-1zM1500 481h1V485h-1zM1503 402h1V424h-1zM1506 358h1V400h-1zM1509 335h1V356h-1zM1512 322h1V333h-1zM1519 344h1V375h-1zM1531 395h1V397h-1zM1534 390h1V393h-1zM1537 356h1V388h-1zM1544 338h1V353h-1zM1547 331h1V336h-1zM1556 335h1V351h-1zM1559 297h1V333h-1zM1578 309h1V323h-1zM1581 293h1V307h-1zM1587 276h1V291h-1zM1596 264h1V279h-1zM1599 258h1V262h-1zM1603 210h1V256h-1zM1606 201h1V208h-1zM1612 219h1V229h-1zM1618 230h1V240h-1zM1631 245h1V257h-1zM1640 262h1V266h-1zM1643 247h1V260h-1zM1646 217h1V245h-1zM1655 249h1V253h-1zM1665 252h1V277h-1zM1671 193h1V255h-1zM1686 226h1V240h-1zM1693 231h1V239h-1zM1696 225h1V229h-1zM1702 219h1V223h-1zM1708 226h1V231h-1zM1711 223h1V224h-1zM1714 218h1V221h-1zM1717 189h1V216h-1zM1721 183h1V187h-1zM1724 156h1V181h-1z" fill="#fff"/></g>
<path d="M498.6 58.5L491 68.8L504.6 58.5z" fill="#ee3548"/>
<rect x="494" y="35" width="80" height="24" rx="2.5" fill="#ee3548"/>
<text x="534.0" y="51.4" font-size="14.4" font-weight="700" fill="#fff" text-anchor="middle" textLength="60" lengthAdjust="spacingAndGlyphs">161.952</text>
<path d="M352.6 106.7L345 116.5L358.6 106.7z" fill="#ee3548"/>
<rect x="348" y="83.2" width="80" height="24" rx="2.5" fill="#ee3548"/>
<text x="388.0" y="99.60000000000001" font-size="14.4" font-weight="700" fill="#fff" text-anchor="middle" textLength="60" lengthAdjust="spacingAndGlyphs">160.216</text>
<path d="M924.4 144.0L917 154L930.4 144.0z" fill="#ee3548"/>
<rect x="919.8" y="120.5" width="80" height="24" rx="2.5" fill="#ee3548"/>
<text x="959.8" y="136.9" font-size="14.4" font-weight="700" fill="#fff" text-anchor="middle" textLength="60" lengthAdjust="spacingAndGlyphs">158.879</text>
<path d="M82.89999999999999 661.8L75.2 671.6L88.89999999999999 661.8z" fill="#2563f2"/>
<rect x="78.3" y="638.3" width="80" height="24" rx="2.5" fill="#2563f2"/>
<text x="118.3" y="654.6999999999999" font-size="14.4" font-weight="700" fill="#fff" text-anchor="middle" textLength="60" lengthAdjust="spacingAndGlyphs">140.255</text>
<path d="M663.1 680.8L656 690.8L669.1 680.8z" fill="#2563f2"/>
<rect x="658.5" y="657.3" width="80" height="24" rx="2.5" fill="#2563f2"/>
<text x="698.5" y="673.6999999999999" font-size="14.4" font-weight="700" fill="#fff" text-anchor="middle" textLength="60" lengthAdjust="spacingAndGlyphs">139.583</text>
<path d="M1147.8 672.3L1140.9 681.6L1153.8 672.3z" fill="#2563f2"/>
<rect x="1143.2" y="648.8" width="80" height="24" rx="2.5" fill="#2563f2"/>
<text x="1183.2" y="665.1999999999999" font-size="14.4" font-weight="700" fill="#fff" text-anchor="middle" textLength="60" lengthAdjust="spacingAndGlyphs">139.889</text>
<text x="1768.5" y="745.8" font-size="12" fill="#131722" textLength="41.5" lengthAdjust="spacingAndGlyphs">138.000</text>
<text x="1768.5" y="690.0" font-size="12" fill="#131722" textLength="41.5" lengthAdjust="spacingAndGlyphs">140.000</text>
<text x="1768.5" y="634.8" font-size="12" fill="#131722" textLength="41.5" lengthAdjust="spacingAndGlyphs">142.000</text>
<text x="1768.5" y="578.8" font-size="12" fill="#131722" textLength="41.5" lengthAdjust="spacingAndGlyphs">144.000</text>
<text x="1768.5" y="523.8" font-size="12" fill="#131722" textLength="41.5" lengthAdjust="spacingAndGlyphs">146.000</text>
<text x="1768.5" y="467.8" font-size="12" fill="#131722" textLength="41.5" lengthAdjust="spacingAndGlyphs">148.000</text>
<text x="1768.5" y="411.8" font-size="12" fill="#131722" textLength="41.5" lengthAdjust="spacingAndGlyphs">150.000</text>
<text x="1768.5" y="356.8" font-size="12" fill="#131722" textLength="41.5" lengthAdjust="spacingAndGlyphs">152.000</text>
<text x="1768.5" y="300.8" font-size="12" fill="#131722" textLength="41.5" lengthAdjust="spacingAndGlyphs">154.000</text>
<text x="1768.5" y="244.8" font-size="12" fill="#131722" textLength="41.5" lengthAdjust="spacingAndGlyphs">156.000</text>
<text x="1768.5" y="133.8" font-size="12" fill="#131722" textLength="41.5" lengthAdjust="spacingAndGlyphs">160.000</text>
<path d="M1729.5 67H1759V84H1729.5a2.5 2.5 0 0 1-2.5-2.5V69.5a2.5 2.5 0 0 1 2.5-2.5z" fill="#ee3548"/>
<path d="M1760 67H1813.5a2.5 2.5 0 0 1 2.5 2.5V81.5a2.5 2.5 0 0 1-2.5 2.5H1760z" fill="#ee3548"/>
<text x="1743" y="80" font-size="12" font-weight="700" fill="#fff" text-anchor="middle" textLength="23.5" lengthAdjust="spacingAndGlyphs">高値</text>
<text x="1768.5" y="80" font-size="12" font-weight="700" fill="#fff" textLength="42" lengthAdjust="spacingAndGlyphs">161.952</text>
<path d="M1729.5 689H1759V706H1729.5a2.5 2.5 0 0 1-2.5-2.5V691.5a2.5 2.5 0 0 1 2.5-2.5z" fill="#ee3548"/>
<path d="M1760 689H1813.5a2.5 2.5 0 0 1 2.5 2.5V703.5a2.5 2.5 0 0 1-2.5 2.5H1760z" fill="#ee3548"/>
<text x="1743" y="702" font-size="12" font-weight="700" fill="#fff" text-anchor="middle" textLength="23.5" lengthAdjust="spacingAndGlyphs">安値</text>
<text x="1768.5" y="702" font-size="12" font-weight="700" fill="#fff" textLength="42" lengthAdjust="spacingAndGlyphs">139.583</text>
<rect x="1760" y="143" width="56" height="33" fill="#fff"/>
<text x="1768.5" y="158.2" font-size="12" fill="#131722" textLength="41.5" lengthAdjust="spacingAndGlyphs">159.138</text>
<text x="1768.5" y="172.3" font-size="12" fill="#2a2e39" textLength="45.5" lengthAdjust="spacingAndGlyphs">21:27:56</text>
<path d="M1760 176H1813.5a2.5 2.5 0 0 1 2.5 2.5V190.5a2.5 2.5 0 0 1-2.5 2.5H1760z" fill="#2563f2"/>
<text x="1768.5" y="189" font-size="12" font-weight="700" fill="#fff" textLength="42" lengthAdjust="spacingAndGlyphs">158.879</text>
<rect x="1763" y="3" width="58" height="26" rx="4.5" fill="#fff" stroke="#eceef2" stroke-width="1"/>
<text x="1772" y="21" font-size="12.5" fill="#131722" textLength="19.3" lengthAdjust="spacingAndGlyphs">JPY</text>
<text x="74.5" y="777" font-size="12" fill="#131722" text-anchor="middle" font-weight="700">2024</text>
<text x="145.9" y="777" font-size="12" fill="#131722" text-anchor="middle">2月</text>
<text x="211.1" y="777" font-size="12" fill="#131722" text-anchor="middle">3月</text>
<text x="276.3" y="777" font-size="12" fill="#131722" text-anchor="middle">4月</text>
<text x="344.7" y="777" font-size="12" fill="#131722" text-anchor="middle">5月</text>
<text x="416.1" y="777" font-size="12" fill="#131722" text-anchor="middle">6月</text>
<text x="478.2" y="777" font-size="12" fill="#131722" text-anchor="middle">7月</text>
<text x="549.7" y="777" font-size="12" fill="#131722" text-anchor="middle">8月</text>
<text x="618.0" y="777" font-size="12" fill="#131722" text-anchor="middle">9月</text>
<text x="683.2" y="777" font-size="12" fill="#131722" text-anchor="middle">10月</text>
<text x="754.7" y="777" font-size="12" fill="#131722" text-anchor="middle">11月</text>
<text x="819.9" y="777" font-size="12" fill="#131722" text-anchor="middle">12月</text>
<text x="888.2" y="777" font-size="12" fill="#131722" text-anchor="middle" font-weight="700">2025</text>
<text x="959.6" y="777" font-size="12" fill="#131722" text-anchor="middle">2月</text>
<text x="1021.8" y="777" font-size="12" fill="#131722" text-anchor="middle">3月</text>
<text x="1087.0" y="777" font-size="12" fill="#131722" text-anchor="middle">4月</text>
<text x="1155.3" y="777" font-size="12" fill="#131722" text-anchor="middle">5月</text>
<text x="1223.6" y="777" font-size="12" fill="#131722" text-anchor="middle">6月</text>
<text x="1288.9" y="777" font-size="12" fill="#131722" text-anchor="middle">7月</text>
<text x="1360.3" y="777" font-size="12" fill="#131722" text-anchor="middle">8月</text>
<text x="1425.5" y="777" font-size="12" fill="#131722" text-anchor="middle">9月</text>
<text x="1493.9" y="777" font-size="12" fill="#131722" text-anchor="middle">10月</text>
<text x="1565.3" y="777" font-size="12" fill="#131722" text-anchor="middle">11月</text>
<text x="1627.4" y="777" font-size="12" fill="#131722" text-anchor="middle">12月</text>
<text x="1698.8" y="777" font-size="12" fill="#131722" text-anchor="middle" font-weight="700">2026</text>
<text x="18.3" y="17.8" font-size="12" fill="#131722" textLength="58.9" lengthAdjust="spacingAndGlyphs" xml:space="preserve">米ドル／円</text>
<text x="89.8" y="17.8" font-size="12" fill="#131722" textLength="16.9" lengthAdjust="spacingAndGlyphs" xml:space="preserve">1日</text>
<text x="119.5" y="17.8" font-size="12" fill="#131722" textLength="16.4" lengthAdjust="spacingAndGlyphs" xml:space="preserve">ICE</text>
<text x="83.3" y="19.4" font-size="18" fill="#131722" text-anchor="middle">·</text>
<text x="113.6" y="19.4" font-size="18" fill="#131722" text-anchor="middle">·</text>
<text x="144.5" y="17.8" font-size="12" fill="#131722" textLength="64.3" lengthAdjust="spacingAndGlyphs" xml:space="preserve">始値159.093</text>
<text x="217.7" y="17.8" font-size="12" fill="#131722" textLength="64.9" lengthAdjust="spacingAndGlyphs" xml:space="preserve">高値159.289</text>
<text x="290.5" y="17.8" font-size="12" fill="#131722" textLength="65.5" lengthAdjust="spacingAndGlyphs" xml:space="preserve">安値159.092</text>
<text x="364.3" y="17.8" font-size="12" fill="#131722" textLength="65.5" lengthAdjust="spacingAndGlyphs" xml:space="preserve">終値159.138</text>
<text x="437.5" y="17.8" font-size="12" fill="#131722" textLength="84.5" lengthAdjust="spacingAndGlyphs" xml:space="preserve">+0.031 (+0.02%)</text>
<text x="18.3" y="35" font-size="12" fill="#131722" textLength="182.3" lengthAdjust="spacingAndGlyphs" xml:space="preserve">MA Cross (移動平均の交差) (9, 26)</text>
<text x="208.8" y="35" font-size="12" fill="#e0505a" textLength="40.5" lengthAdjust="spacingAndGlyphs" xml:space="preserve">157.511</text>
<text x="258" y="35" font-size="12" fill="#3f6fd8" textLength="41.4" lengthAdjust="spacingAndGlyphs" xml:space="preserve">156.569</text>
<g transform="translate(1726.2,746.2)"><circle r="10.2" fill="#fff" stroke="#dc4a53" stroke-width="1.5"/><clipPath id="fc"><circle r="8.1"/></clipPath><g clip-path="url(#fc)"><rect x="-9" y="-9" width="18" height="18" fill="#fff"/><rect x="-9" y="-9" width="18" height="2.6" fill="#f3a3a8"/><rect x="-9" y="-2.2" width="18" height="3.4" fill="#e9505a"/><rect x="-9" y="4.6" width="18" height="3.6" fill="#e9505a"/><rect x="-9" y="-9" width="10.2" height="10.3" fill="#4285ea"/><g fill="#cfe2fb"><circle cx="-5.6" cy="-5.4" r=".75"/><circle cx="-3.2" cy="-5.4" r=".75"/><circle cx="-.8" cy="-5.4" r=".75"/><circle cx="-5.6" cy="-3" r=".75"/><circle cx="-3.2" cy="-3" r=".75"/><circle cx="-.8" cy="-3" r=".75"/><circle cx="-5.6" cy="-.6" r=".75"/><circle cx="-3.2" cy="-.6" r=".75"/><circle cx="-.8" cy="-.6" r=".75"/></g></g></g>
<g fill="#0c0e15"><path d="M11.8 809.1H23.8V823.7H17.8V814.9H11.8z"/><circle cx="28.7" cy="812" r="2.9"/><path d="M32.9 809.1H41.7L36.6 823.7H28.6z"/></g>
<text x="49" y="823.7" font-size="20" font-weight="700" fill="#0c0e15" stroke="#0c0e15" stroke-width="0.35" textLength="120.5" lengthAdjust="spacingAndGlyphs">TradingView</text>
</svg></body></html>
